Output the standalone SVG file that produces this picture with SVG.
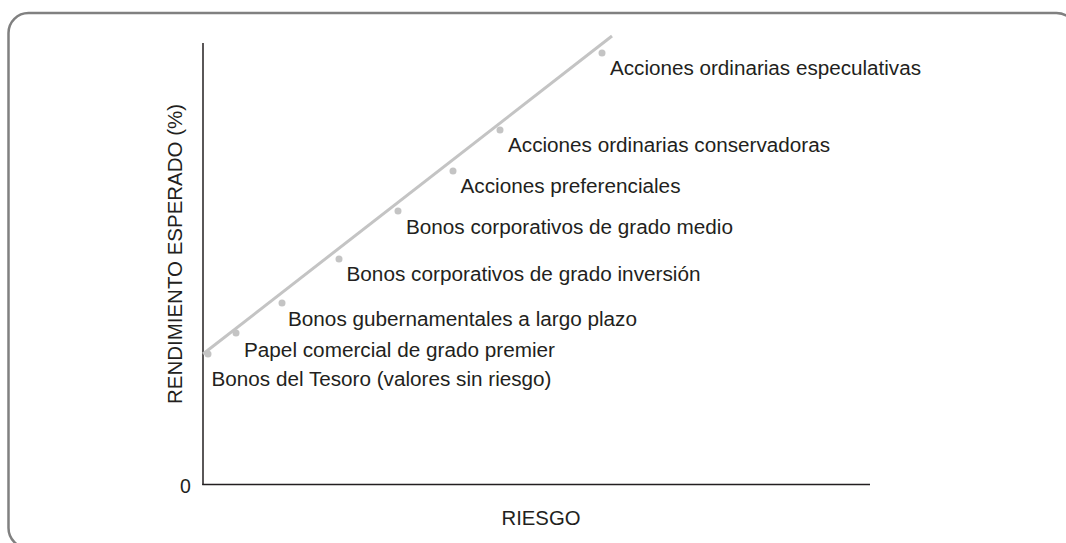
<svg xmlns="http://www.w3.org/2000/svg" width="1066" height="543" viewBox="0 0 1066 543">
<style>
.t{font-family:"Liberation Sans",Arial,sans-serif;font-size:19.5px;fill:#231f20}
.ax{stroke:#231f20;stroke-width:1.5;fill:none}
.dot{fill:#c4c4c4}
</style>
<rect x="8.5" y="13" width="1068" height="535" rx="20" ry="20" fill="#ffffff" stroke="#808080" stroke-width="2.5"/>
<g id="axes">
<line class="ax" x1="203" y1="43" x2="203" y2="485"/>
<line class="ax" x1="202.25" y1="484.5" x2="870" y2="484.5"/>
<text class="t" x="180" y="493" font-size="20">0</text>
<text class="t" x="541" y="525" text-anchor="middle" textLength="79" lengthAdjust="spacingAndGlyphs">RIESGO</text>
<text class="t" transform="translate(182,254) rotate(-90)" text-anchor="middle" textLength="300" lengthAdjust="spacingAndGlyphs">RENDIMIENTO ESPERADO (%)</text>
</g>
<g id="connectors">
<line x1="203" y1="354" x2="612" y2="36" stroke="#c4c4c4" stroke-width="3"/>
</g>
<g id="n1"><circle class="dot" cx="208" cy="354" r="3.5"/><text class="t" x="211.5" y="386" textLength="340" lengthAdjust="spacingAndGlyphs">Bonos del Tesoro (valores sin riesgo)</text></g>
<g id="n2"><circle class="dot" cx="236" cy="333" r="3.5"/><text class="t" x="244" y="357" textLength="311" lengthAdjust="spacingAndGlyphs">Papel comercial de grado premier</text></g>
<g id="n3"><circle class="dot" cx="282" cy="303" r="3.5"/><text class="t" x="288" y="326" textLength="349" lengthAdjust="spacingAndGlyphs">Bonos gubernamentales a largo plazo</text></g>
<g id="n4"><circle class="dot" cx="339" cy="259" r="3.5"/><text class="t" x="346.5" y="281" textLength="354" lengthAdjust="spacingAndGlyphs">Bonos corporativos de grado inversión</text></g>
<g id="n5"><circle class="dot" cx="398" cy="211" r="3.5"/><text class="t" x="406" y="234" textLength="327" lengthAdjust="spacingAndGlyphs">Bonos corporativos de grado medio</text></g>
<g id="n6"><circle class="dot" cx="453" cy="171" r="3.5"/><text class="t" x="460.5" y="193" textLength="220" lengthAdjust="spacingAndGlyphs">Acciones preferenciales</text></g>
<g id="n7"><circle class="dot" cx="500" cy="130" r="3.5"/><text class="t" x="508" y="152" textLength="322" lengthAdjust="spacingAndGlyphs">Acciones ordinarias conservadoras</text></g>
<g id="n8"><circle class="dot" cx="602" cy="53" r="3.5"/><text class="t" x="610" y="75" textLength="311" lengthAdjust="spacingAndGlyphs">Acciones ordinarias especulativas</text></g>
</svg>
